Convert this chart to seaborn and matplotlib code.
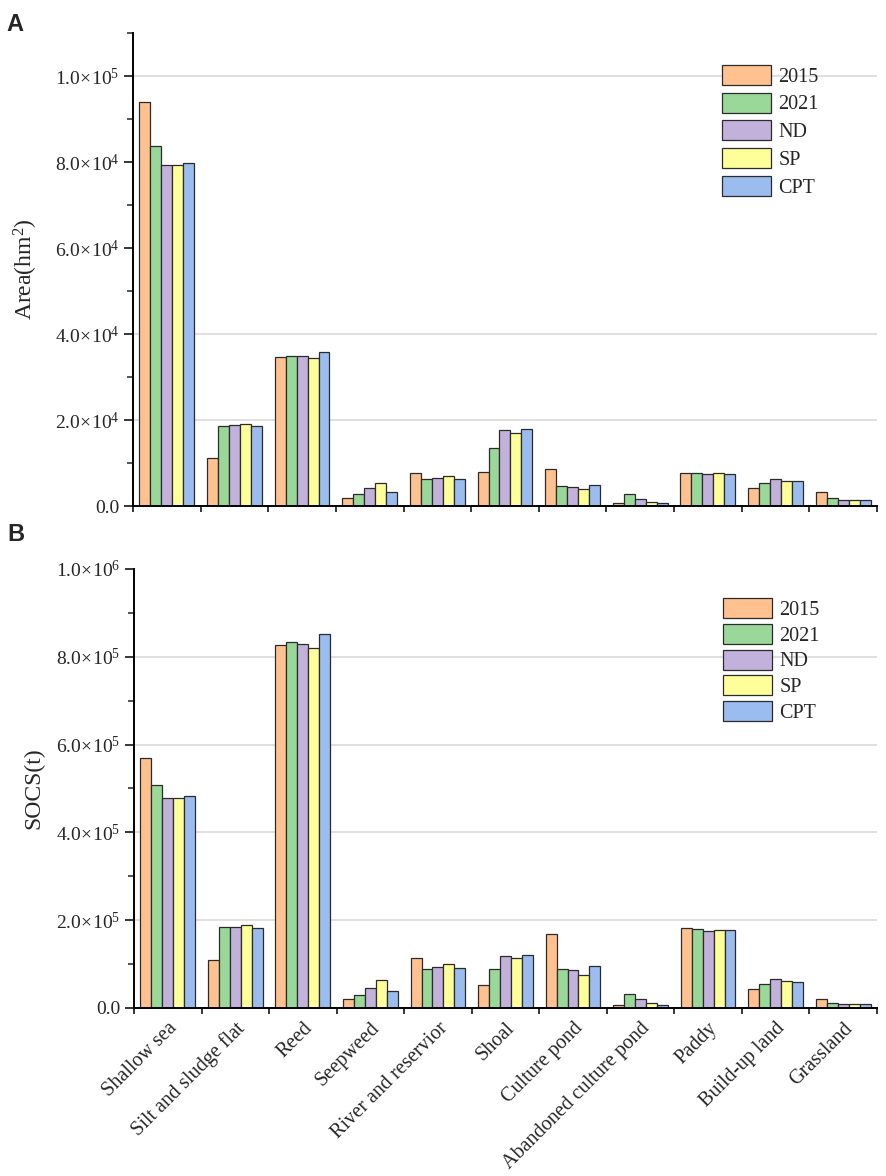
import numpy as np
import pandas as pd
import matplotlib
matplotlib.use("Agg")
import matplotlib.pyplot as plt
import seaborn as sns
from matplotlib.ticker import MultipleLocator, FuncFormatter, FixedLocator

categories = ["Shallow sea", "Silt and sludge flat", "Reed", "Seepweed",
              "River and reservior", "Shoal", "Culture pond",
              "Abandoned culture pond", "Paddy", "Build-up land", "Grassland"]
series = ["2015", "2021", "ND", "SP", "CPT"]

area_2015 = [94000, 11100, 34650, 1900, 7750, 7980, 8550, 650, 7780, 4300, 3250]
area_2021 = [83800, 18650, 34950, 2900, 6200, 13450, 4650, 2760, 7700, 5280, 1950]
area_ND = [79300, 18800, 34800, 4100, 6450, 17650, 4420, 1600, 7380, 6250, 1450]
area_SP = [79300, 19100, 34500, 5450, 6900, 16900, 3860, 1000, 7600, 5900, 1450]
area_CPT = [79700, 18600, 35800, 3330, 6200, 17900, 4970, 760, 7550, 5780, 1400]

socs_2015 = [570000, 109000, 826000, 19800, 114600, 52400, 168600, 6800, 182200, 43300, 21200]
socs_2021 = [507000, 183800, 833000, 30300, 89500, 89500, 89500, 32600, 180000, 54000, 11400]
socs_ND = [479000, 185200, 830000, 44900, 92700, 118500, 86600, 20500, 174700, 65400, 9100]
socs_SP = [479000, 188400, 821000, 63100, 99500, 113900, 75200, 11400, 177700, 61500, 9100]
socs_CPT = [482000, 183000, 852000, 38000, 90400, 120000, 95700, 7600, 177700, 59200, 9100]

colors = ["#FFC18F", "#99D899", "#C2B1DA", "#FFFF9A", "#9ABCEF"]


def long_df(cols):
    rows = []
    for s, vals in zip(series, cols):
        for c, v in zip(categories, vals):
            rows.append({"cat": c, "series": s, "value": v})
    return pd.DataFrame(rows)


df_area = long_df([area_2015, area_2021, area_ND, area_SP, area_CPT])
df_socs = long_df([socs_2015, socs_2021, socs_ND, socs_SP, socs_CPT])

sns.set_style("ticks")
plt.rcParams["font.family"] = ["Liberation Serif", "DejaVu Serif"]
plt.rcParams["mathtext.fontset"] = "custom"
plt.rcParams["mathtext.rm"] = "Liberation Serif"
plt.rcParams["mathtext.it"] = "Liberation Serif:italic"
plt.rcParams["mathtext.bf"] = "Liberation Serif:bold"

fig = plt.figure(figsize=(8.86, 11.76), dpi=100)
axA = fig.add_axes([0.1501, 0.5697, 0.8397, 0.4022])
axB = fig.add_axes([0.1512, 0.1429, 0.8386, 0.3733])


def sci_fmt(v, pos):
    if v == 0:
        return "0.0"
    e = int(np.floor(np.log10(abs(v)) + 1e-9))
    m = v / 10 ** e
    return r"$\mathrm{%.1f\!\times\!10^{%d}}$" % (m, e)


def style_axis(ax, ymax, major, minor, hide_grid, ylabel, label_x):
    ax.set_xlim(-0.5, len(categories) - 0.5)
    ax.set_ylim(0, ymax)
    for sp in ["top", "right"]:
        ax.spines[sp].set_visible(False)
    for sp in ["left", "bottom"]:
        ax.spines[sp].set_linewidth(1.4)
        ax.spines[sp].set_color("black")
    ax.yaxis.set_major_locator(MultipleLocator(major))
    ax.yaxis.set_minor_locator(MultipleLocator(minor))
    ax.yaxis.set_major_formatter(FuncFormatter(sci_fmt))
    ax.tick_params(axis="y", which="major", length=6.5, width=1.3, labelsize=14, pad=3, direction="out")
    ax.tick_params(axis="y", which="minor", length=4.3, width=1.1, direction="out")
    ax.xaxis.set_major_locator(FixedLocator(np.arange(len(categories))))
    ax.xaxis.set_minor_locator(FixedLocator(np.arange(-0.5, len(categories), 1.0)))
    ax.tick_params(axis="x", which="major", length=0)
    ax.tick_params(axis="x", which="minor", length=4.5, width=1.3, direction="out")
    ax.set_axisbelow(True)
    ax.yaxis.grid(True, which="major", color="#DADADA", linewidth=1.2)
    ax.xaxis.grid(False)
    fig.canvas.draw()
    for t in ax.yaxis.get_major_ticks():
        loc = t.get_loc()
        if any(abs(loc - h) < 1e-6 for h in hide_grid):
            t.gridline.set_visible(False)
    ax.set_xlabel("")
    ax.set_ylabel(ylabel, fontsize=17)
    ax.yaxis.set_label_coords(label_x, 0.5)


for ax, df in [(axA, df_area), (axB, df_socs)]:
    sns.barplot(data=df, x="cat", y="value", hue="series", hue_order=series,
                order=categories, palette=colors, width=0.81, gap=0,
                edgecolor="#2b2b2b", linewidth=0.9, ax=ax, errorbar=None,
                saturation=1)

style_axis(axA, 1.1e5, 2e4, 1e4, [0, 6e4, 8e4], "Area(hm$^2$)", -0.125)
style_axis(axB, 1.0e6, 2e5, 1e5, [0, 1e6], "SOCS(t)", -0.12)

axA.set_xticklabels([])
axB.set_xticklabels(categories, rotation=45, ha="right", rotation_mode="anchor", fontsize=14.5)
axB.tick_params(axis="x", which="major", pad=8)

for ax, anchor, lsp in [(axA, (0.7917, 0.933), 0.3), (axB, (0.7927, 0.934), 0.2)]:
    ax.get_legend().remove()
    h, l = ax.get_legend_handles_labels()
    ax.legend(h[:5], l[:5], loc="upper left", bbox_to_anchor=anchor, frameon=False,
              fontsize=14.5, handlelength=2.45, handleheight=1.15, labelspacing=lsp,
              handletextpad=0.35, borderpad=0, borderaxespad=0)

fig.text(0.0068, 0.9795, "A", fontsize=17, fontweight="bold", family="Liberation Sans", va="center")
fig.text(0.0079, 0.5459, "B", fontsize=17, fontweight="bold", family="Liberation Sans", va="center")

fig.savefig("out.png", dpi=100)
